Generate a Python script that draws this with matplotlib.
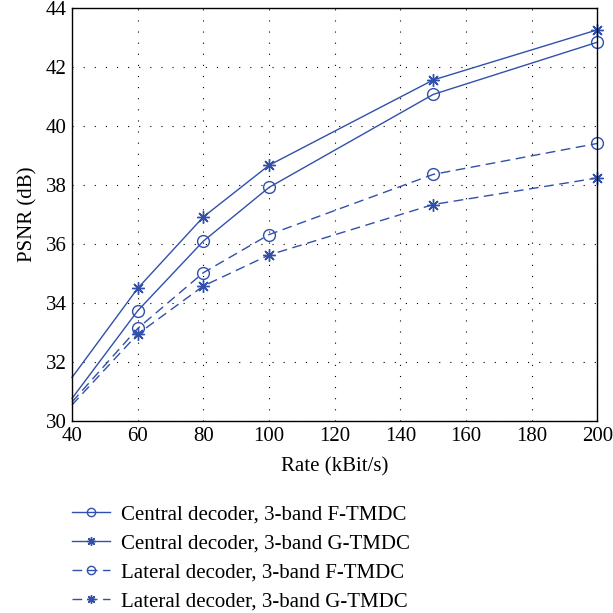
import matplotlib
matplotlib.use("Agg")
import matplotlib.pyplot as plt

plt.rcParams["font.family"] = ["Liberation Serif", "DejaVu Serif"]

# Data (PSNR in dB vs rate in kBit/s)
rate = [40, 60, 80, 100, 150, 200]
central_f = [30.77, 33.74, 36.1, 37.92, 41.07, 42.84]
central_g = [31.48, 34.5, 36.92, 38.67, 41.56, 43.26]
lateral_f = [30.65, 33.14, 35.03, 36.32, 38.36, 39.41]
lateral_g = [30.55, 32.95, 34.58, 35.63, 37.34, 38.24]
labels = ["Central decoder, 3-band F-TMDC",
          "Central decoder, 3-band G-TMDC",
          "Lateral decoder, 3-band F-TMDC",
          "Lateral decoder, 3-band G-TMDC"]

BLUE = "#3050ac"
ASTER = (8, 2, 0)

fig = plt.figure(figsize=(6.13, 6.13), dpi=100)
ax = fig.add_axes([0.1175, 0.313, 0.857, 0.674])

series = [(central_f, "-", "o"), (central_g, "-", ASTER),
          (lateral_f, (0, (7, 4)), "o"), (lateral_g, (0, (7, 4)), ASTER)]
for (vals, ls, mk), lab in zip(series, labels):
    ax.plot(rate, vals, color=BLUE, lw=1.0, ls=ls, marker=mk,
            markevery=[1, 2, 3, 4, 5], markersize=8.5 if mk == "o" else 9,
            markerfacecolor="none", markeredgecolor=BLUE, markeredgewidth=1.0,
            label=lab, clip_on=False)

ax.set_xlim(40, 200)
ax.set_ylim(30, 44)
ax.set_xticks(range(40, 201, 20))
ax.set_yticks(range(30, 45, 2))
ax.grid(True, color="black", ls=(0, (1, 9)), lw=0.8)
ax.tick_params(direction="in", length=0, labelsize=15, pad=4)
for s in ax.spines.values():
    s.set_linewidth(1.0)
ax.set_xlabel("Rate (kBit/s)", fontsize=15, labelpad=8)
ax.set_ylabel("PSNR (dB)", fontsize=15, labelpad=6)

fig.legend(loc="upper left", bbox_to_anchor=(0.104, 0.19), frameon=False,
           fontsize=15, handlelength=1.8, handletextpad=0.55,
           labelspacing=0.45, borderaxespad=0.0, markerscale=0.7)

fig.savefig("out.png", dpi=100)
